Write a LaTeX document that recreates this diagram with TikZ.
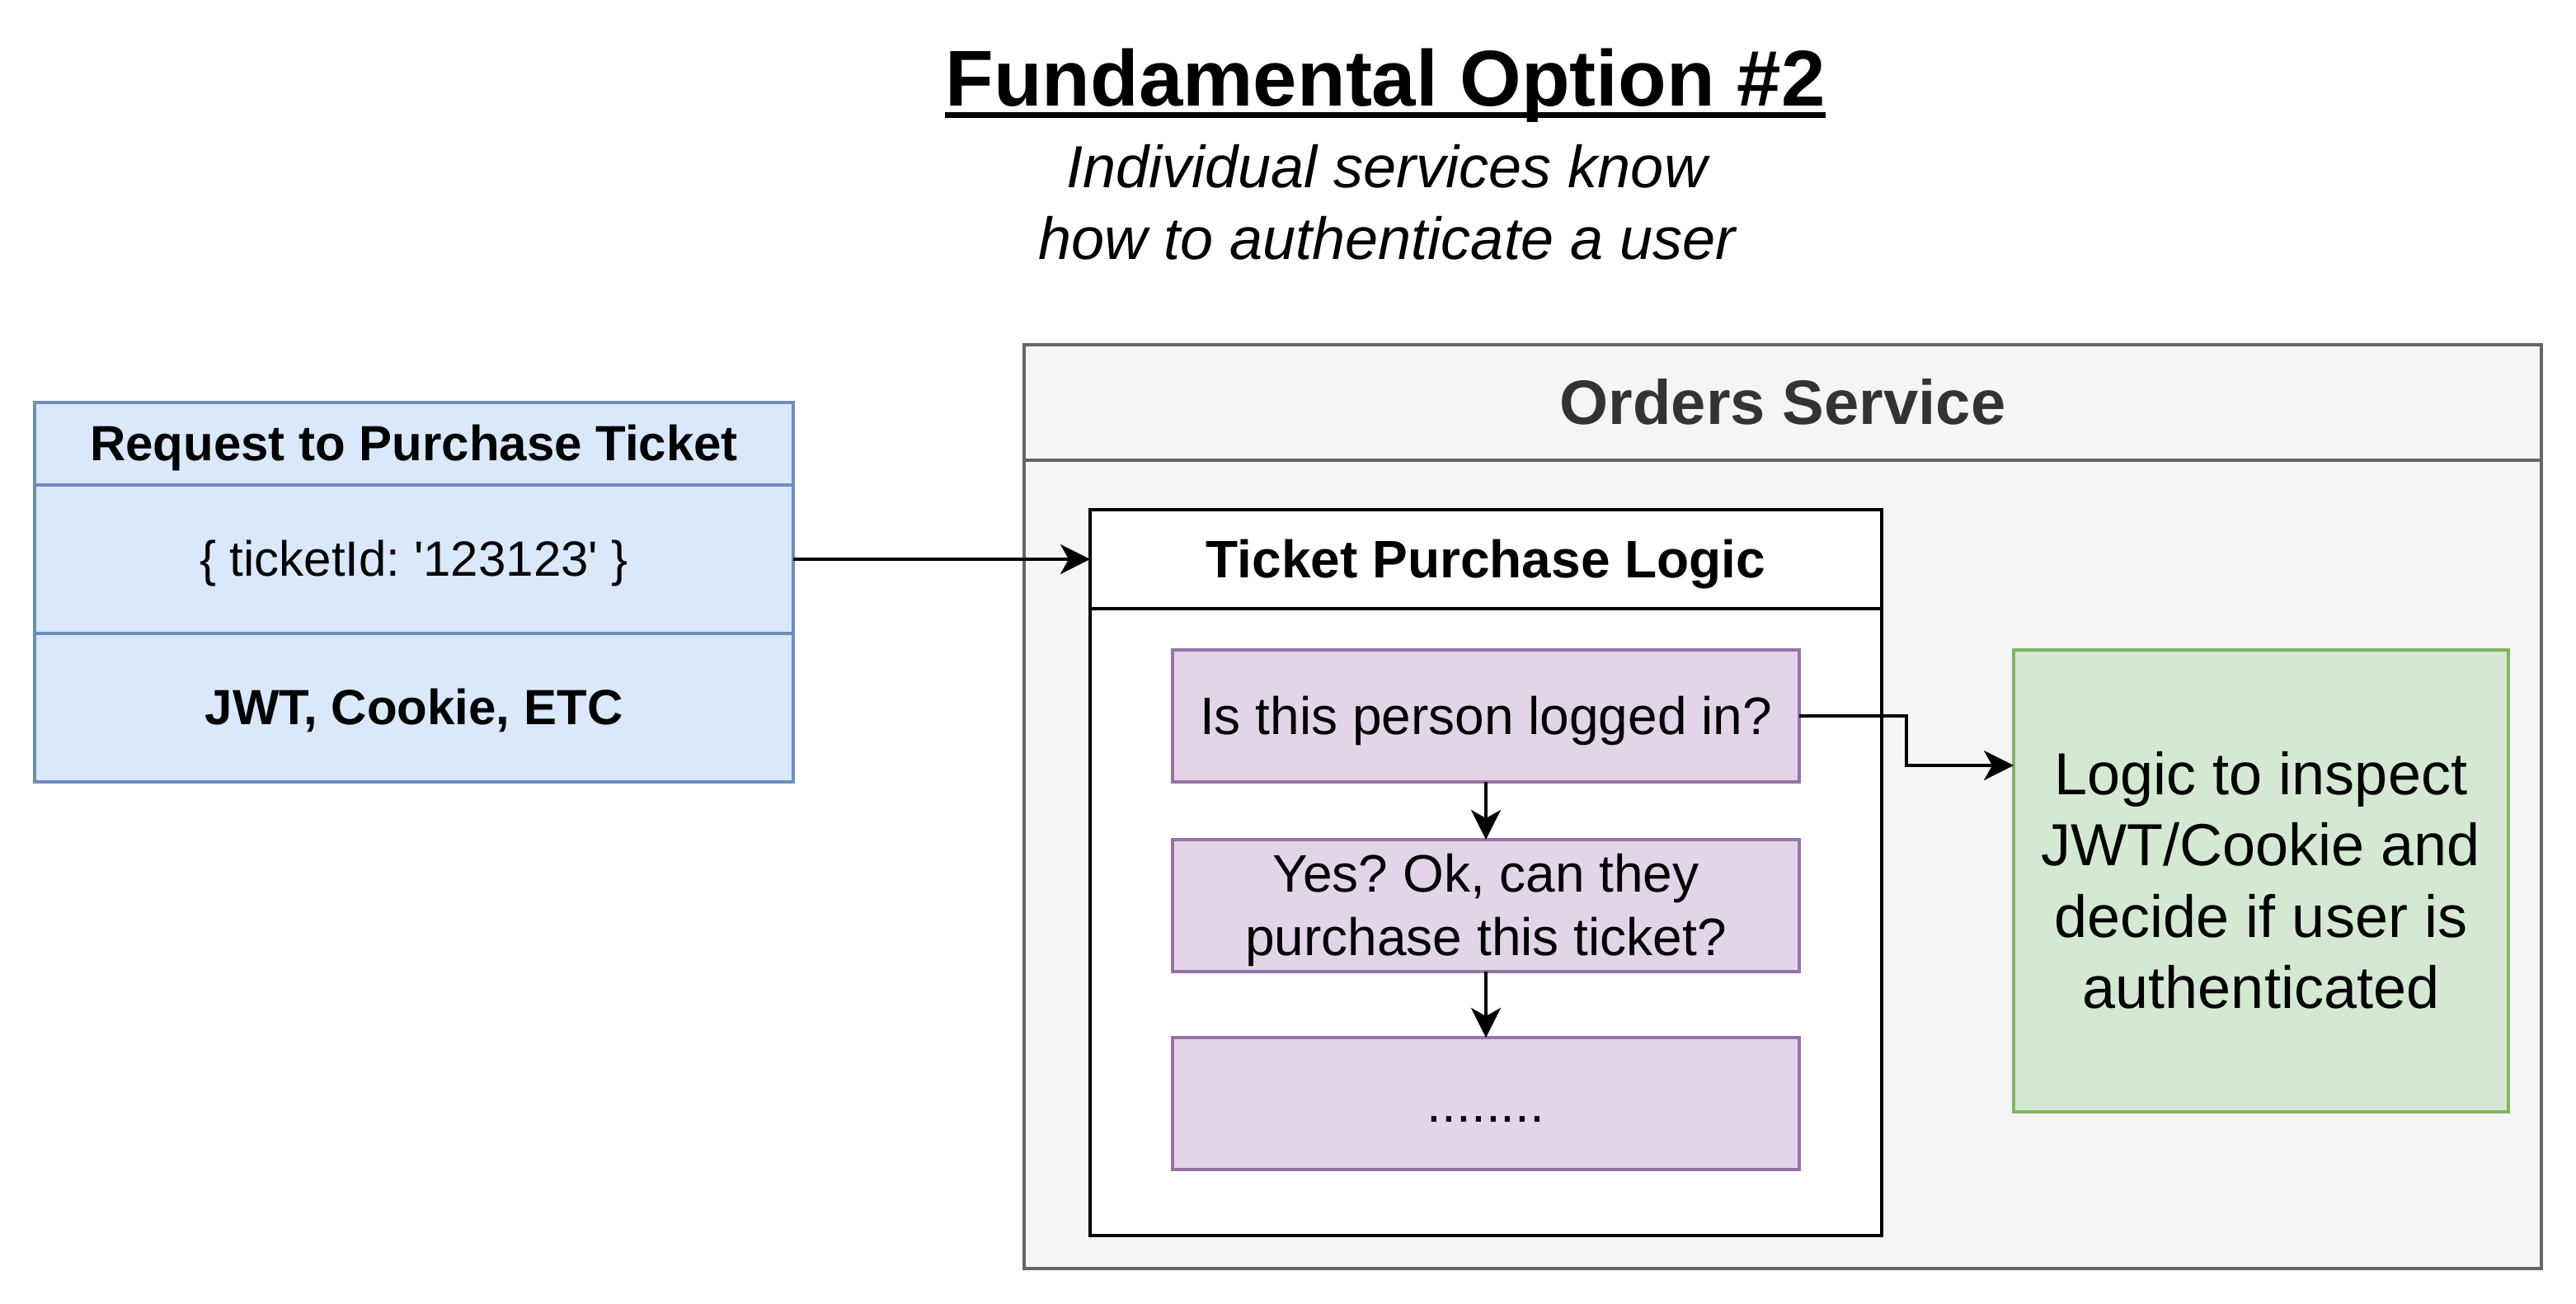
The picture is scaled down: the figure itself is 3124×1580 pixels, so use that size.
\documentclass[tikz,border=0pt]{standalone}
\usepackage{fontspec}
\setmainfont{Liberation Sans}
\usetikzlibrary{arrows.meta}
\definecolor{blueF}{HTML}{DAE8FC}
\definecolor{blueD}{HTML}{6C8EBF}
\definecolor{purpF}{HTML}{E1D5E7}
\definecolor{purpD}{HTML}{9673A6}
\definecolor{greenF}{HTML}{D5E8D4}
\definecolor{greenD}{HTML}{82B366}
\definecolor{grayF}{HTML}{F5F5F5}
\definecolor{grayD}{HTML}{666666}
\definecolor{grayT}{HTML}{333333}
\newcommand{\dstrut}{\rule[-0.2535em]{0pt}{1.2em}}
\frenchspacing
\begin{document}
\frenchspacing
\begin{tikzpicture}[x=1pt,y=-1pt,
  box/.style={rectangle, inner sep=0pt, outer sep=0pt, line width=4pt, align=center},
  bluebox/.style={box, draw=blueD, fill=blueF, minimum width=920pt},
  purpbox/.style={box, draw=purpD, fill=purpF, minimum width=760pt, minimum height=160pt, font=\fontsize{64}{76.8}\selectfont},
  arr/.style={line width=4pt, -{Stealth[length=36pt,width=36pt,inset=10pt]}}
]
\fill[white] (0,0) rectangle (3124,1580);
\useasboundingbox (0,0) rectangle (3124,1580);

% title
\node[font=\bfseries\fontsize{96}{115.2}\selectfont, inner sep=0pt, anchor=base] (title) at (1680,128) {Fundamental Option \#2};
\draw[line width=7pt] ([yshift=-11pt]title.base west) -- ([yshift=-11pt]title.base east);
\node[font=\itshape\fontsize{72}{86.4}\selectfont, inner sep=0pt, align=center] (subtitle) at (1682,246) {\dstrut Individual services know\\\dstrut how to authenticate a user};

% request
\node[bluebox, minimum height=100pt, font=\bfseries\fontsize{60}{72}\selectfont] (reqHead) at (502,538) {\dstrut Request to Purchase Ticket};
\node[bluebox, minimum height=180pt, font=\fontsize{60}{72}\selectfont] (reqBody) at (502,678) {\dstrut \{ ticketId: \textquotesingle 123123\textquotesingle{} \}};
\node[bluebox, minimum height=180pt, font=\bfseries\fontsize{60}{72}\selectfont] (reqAuth) at (502,858) {\dstrut JWT, Cookie, ETC};

% orders service
\node[box, draw=grayD, fill=grayF, minimum width=1840pt, minimum height=1120pt] (orders) at (2162,978) {};
\node[box, draw=grayD, fill=grayF, minimum width=1840pt, minimum height=140pt, text=grayT, font=\bfseries\fontsize{76}{91.2}\selectfont] (ordersHead) at (2162,488) {\dstrut Orders Service};

% ticket purchase logic
\node[box, draw=black, fill=white, minimum width=960pt, minimum height=880pt] (ticket) at (1802,1058) {};
\node[box, draw=black, fill=white, minimum width=960pt, minimum height=120pt, font=\bfseries\fontsize{64}{76.8}\selectfont] (ticketHead) at (1802,678) {\dstrut Ticket Purchase Logic};

\node[purpbox] (q1) at (1802,868) {\dstrut Is this person logged in?};
\node[purpbox] (q2) at (1802,1098) {\dstrut Yes? Ok, can they\\\dstrut purchase this ticket?};
\node[purpbox] (q3) at (1802,1338) {\dstrut ........};

% auth logic
\node[box, draw=greenD, fill=greenF, minimum width=600pt, minimum height=560pt, font=\fontsize{72}{86.4}\selectfont] (auth) at (2742,1068) {\dstrut Logic to inspect\\\dstrut JWT/Cookie and\\\dstrut decide if user is\\\dstrut authenticated};

% connectors
\draw[arr] (reqBody.east) -- (ticketHead.west);
\draw[arr] (q1.south) -- (q2.north);
\draw[arr] (q2.south) -- (q3.north);
\draw[arr] (q1.east) -- ++(130,0) |- ([yshift=140pt]auth.west);
\end{tikzpicture}
\end{document}
